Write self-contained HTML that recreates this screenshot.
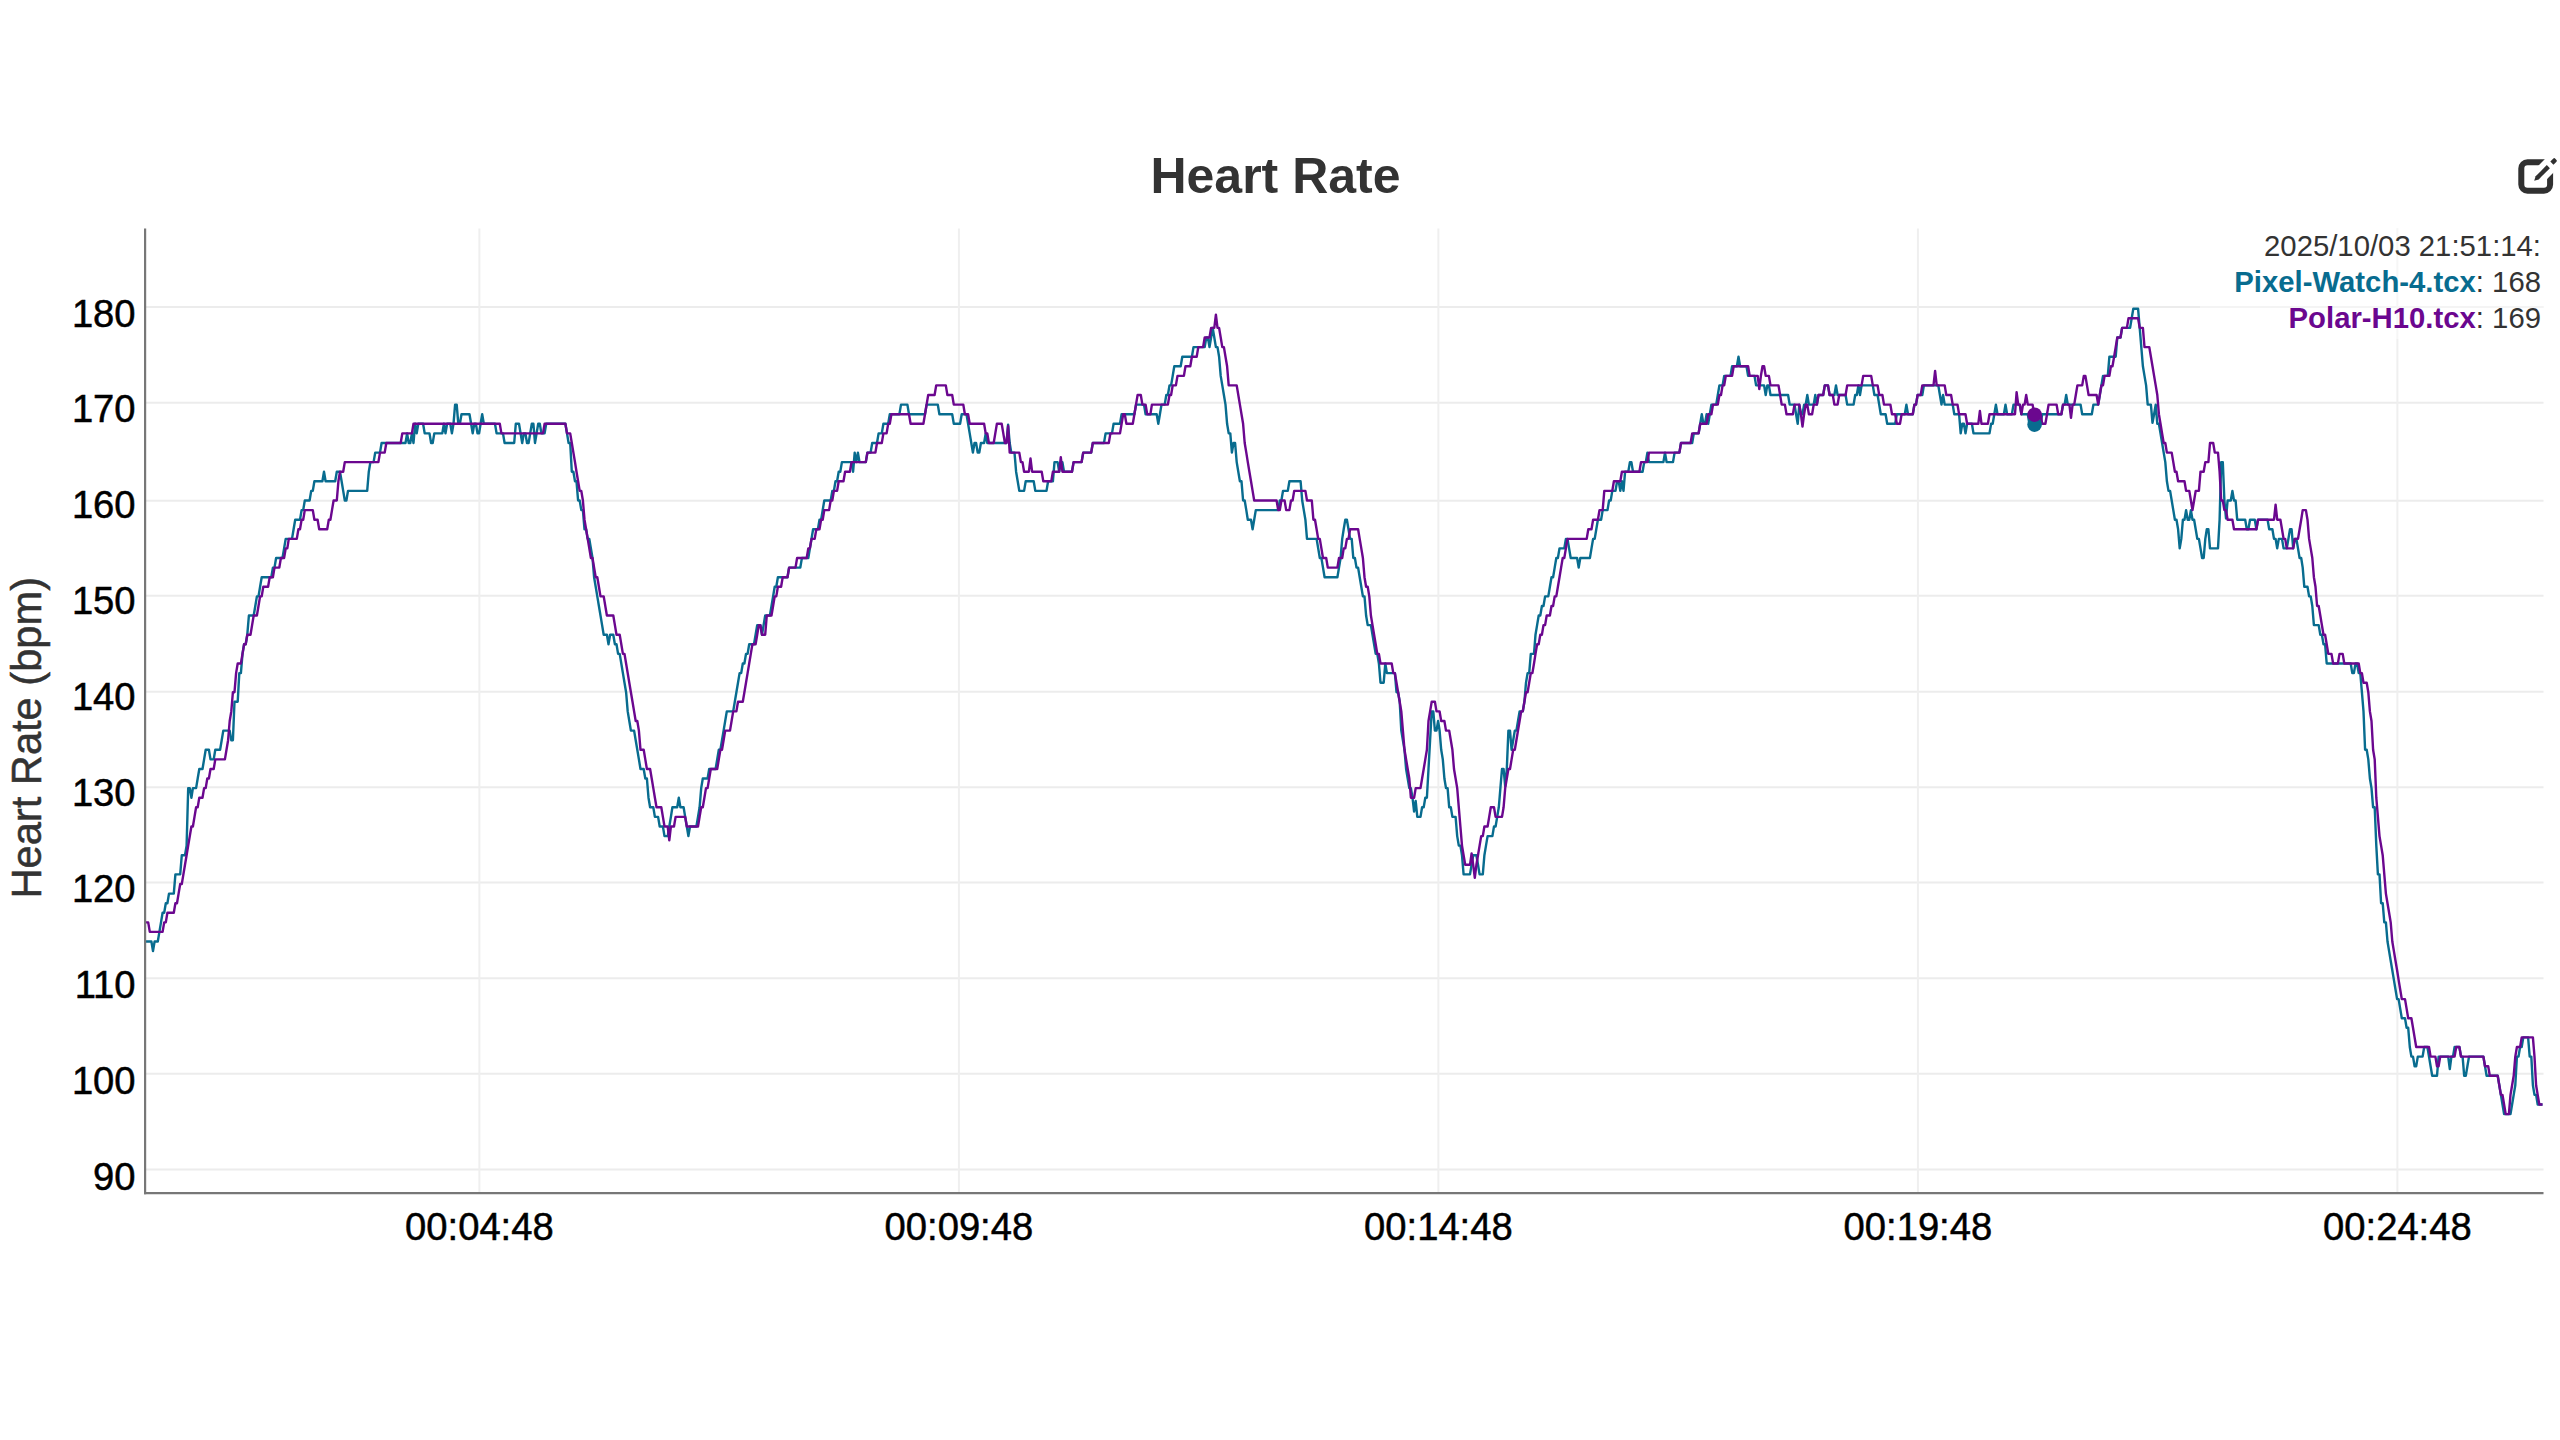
<!DOCTYPE html>
<html lang="en"><head><meta charset="utf-8"><title>Heart Rate</title>
<style>
html,body{margin:0;padding:0;background:#fff;}
body{width:2560px;height:1440px;overflow:hidden;font-family:"Liberation Sans",Arial,Helvetica,sans-serif;}
svg{display:block;}
text{font-family:"Liberation Sans",Arial,Helvetica,sans-serif;}
.tick{font-size:38.2px;fill:#000;stroke:#000;stroke-width:0.5px;}
.title{font-size:50px;font-weight:bold;fill:#333;}
.ylab{font-size:43.3px;fill:#333;stroke:#333;stroke-width:0.5px;}
.leg{font-size:29.3px;fill:#333;}
</style></head><body>
<svg width="2560" height="1440" viewBox="0 0 2560 1440">
<rect width="2560" height="1440" fill="#fff"/>

<g stroke="#ececec" stroke-width="2" fill="none">
<line x1="146" y1="1169.4" x2="2543.5" y2="1169.4"/>
<line x1="146" y1="1073.7" x2="2543.5" y2="1073.7"/>
<line x1="146" y1="978.3" x2="2543.5" y2="978.3"/>
<line x1="146" y1="882.5" x2="2543.5" y2="882.5"/>
<line x1="146" y1="787.2" x2="2543.5" y2="787.2"/>
<line x1="146" y1="691.7" x2="2543.5" y2="691.7"/>
<line x1="146" y1="595.8" x2="2543.5" y2="595.8"/>
<line x1="146" y1="500.7" x2="2543.5" y2="500.7"/>
<line x1="146" y1="402.7" x2="2543.5" y2="402.7"/>
<line x1="146" y1="306.9" x2="2543.5" y2="306.9"/>
<line stroke="#efefef" x1="479.4" y1="228.5" x2="479.4" y2="1192"/>
<line stroke="#efefef" x1="958.9" y1="228.5" x2="958.9" y2="1192"/>
<line stroke="#efefef" x1="1438.4" y1="228.5" x2="1438.4" y2="1192"/>
<line stroke="#efefef" x1="1917.9" y1="228.5" x2="1917.9" y2="1192"/>
<line stroke="#efefef" x1="2397.4" y1="228.5" x2="2397.4" y2="1192"/>
</g>
<g fill="none" stroke-width="2.4" stroke-linejoin="round" stroke-linecap="butt">
<path stroke="#086c8f" d="M145.0,941.5 L151.4,941.5 L153.0,951.1 L154.6,941.5 L157.8,941.5 L159.4,931.9 L161.0,922.4 L162.6,912.8 L164.2,912.8 L165.8,903.2 L167.4,903.2 L169.0,893.6 L173.8,893.6 L175.4,874.4 L180.2,874.4 L181.8,855.2 L185.0,855.2 L186.6,845.6 L188.2,788.1 L189.8,788.1 L191.4,797.7 L192.9,788.1 L196.1,788.1 L197.7,778.5 L199.3,769.0 L202.5,769.0 L204.1,759.4 L205.7,749.8 L208.9,749.8 L210.5,759.4 L213.7,759.4 L215.3,749.8 L220.1,749.8 L221.7,740.2 L223.3,730.6 L229.7,730.6 L231.3,740.2 L232.9,740.2 L234.5,701.8 L237.7,701.8 L239.3,673.1 L240.9,673.1 L242.5,653.9 L244.1,644.3 L245.7,644.3 L247.3,634.7 L248.9,615.5 L253.7,615.5 L255.3,606.0 L256.9,596.4 L258.5,596.4 L260.1,586.8 L261.7,577.2 L271.3,577.2 L272.9,567.6 L274.5,567.6 L276.1,558.0 L282.5,558.0 L284.1,548.4 L285.7,538.9 L292.0,538.9 L293.6,529.3 L295.2,519.7 L300.0,519.7 L301.6,510.1 L303.2,510.1 L304.8,500.5 L309.6,500.5 L311.2,490.9 L312.8,490.9 L314.4,481.3 L322.4,481.3 L324.0,471.7 L325.6,481.3 L335.2,481.3 L336.8,471.7 L340.0,471.7 L341.6,481.3 L343.2,490.9 L344.8,500.5 L346.4,500.5 L348.0,490.9 L367.2,490.9 L368.8,471.7 L370.4,462.1 L373.6,462.1 L375.2,452.6 L380.0,452.6 L381.6,443.0 L405.5,443.0 L407.1,433.4 L408.7,443.0 L410.3,443.0 L411.9,433.4 L413.5,443.0 L415.1,423.8 L416.7,433.4 L418.3,423.8 L423.1,423.8 L424.7,433.4 L429.5,433.4 L431.1,443.0 L432.7,443.0 L434.3,433.4 L442.3,433.4 L443.9,423.8 L445.5,433.4 L447.1,423.8 L450.3,423.8 L451.9,433.4 L453.5,423.8 L455.1,404.6 L456.7,404.6 L458.3,423.8 L459.9,423.8 L461.5,414.2 L469.5,414.2 L471.1,423.8 L472.7,433.4 L474.3,423.8 L475.9,423.8 L477.5,433.4 L479.1,433.4 L480.6,423.8 L482.2,414.2 L483.8,423.8 L495.0,423.8 L496.6,433.4 L503.0,433.4 L504.6,443.0 L514.2,443.0 L515.8,423.8 L519.0,423.8 L520.6,433.4 L522.2,443.0 L523.8,433.4 L525.4,433.4 L527.0,443.0 L528.6,443.0 L530.2,433.4 L531.8,423.8 L533.4,423.8 L535.0,443.0 L536.6,433.4 L538.2,423.8 L539.8,423.8 L541.4,433.4 L544.6,433.4 L546.2,423.8 L565.4,423.8 L567.0,433.4 L568.6,443.0 L570.2,443.0 L571.8,471.7 L573.4,471.7 L575.0,481.3 L576.5,481.3 L578.1,500.5 L579.7,500.5 L581.3,510.1 L582.9,510.1 L584.5,529.3 L586.1,529.3 L587.7,538.9 L589.3,538.9 L590.9,548.4 L592.5,558.0 L594.1,577.2 L595.7,586.8 L597.3,596.4 L598.9,606.0 L600.5,615.5 L602.1,625.1 L603.7,634.7 L606.9,634.7 L608.5,644.3 L610.1,634.7 L613.3,634.7 L614.9,644.3 L616.5,644.3 L618.1,653.9 L619.7,653.9 L621.3,663.5 L622.9,673.1 L624.5,682.7 L626.1,692.2 L627.7,711.4 L629.3,721.0 L630.9,730.6 L634.1,730.6 L635.7,740.2 L637.3,749.8 L638.9,759.4 L640.5,769.0 L643.7,769.0 L645.3,778.5 L646.9,778.5 L648.5,797.7 L650.1,807.3 L653.3,807.3 L654.9,816.9 L658.1,816.9 L659.7,826.5 L662.9,826.5 L664.5,836.1 L667.7,836.1 L669.3,826.5 L670.9,816.9 L672.4,807.3 L677.2,807.3 L678.8,797.7 L680.4,807.3 L683.6,807.3 L685.2,816.9 L686.8,826.5 L688.4,836.1 L690.0,826.5 L696.4,826.5 L698.0,816.9 L699.6,807.3 L701.2,788.1 L702.8,778.5 L707.6,778.5 L709.2,769.0 L715.6,769.0 L717.2,759.4 L718.8,749.8 L720.4,749.8 L722.0,740.2 L723.6,730.6 L725.2,721.0 L726.8,711.4 L733.2,711.4 L734.8,701.8 L736.4,692.2 L738.0,682.7 L739.6,673.1 L741.2,673.1 L742.8,663.5 L744.4,663.5 L746.0,653.9 L747.6,653.9 L749.2,644.3 L754.0,644.3 L755.6,634.7 L757.2,625.1 L760.4,625.1 L762.0,634.7 L763.6,625.1 L765.2,615.5 L769.9,615.5 L771.5,606.0 L773.1,596.4 L774.7,586.8 L776.3,586.8 L777.9,577.2 L787.5,577.2 L789.1,567.6 L800.3,567.6 L801.9,558.0 L808.3,558.0 L809.9,548.4 L811.5,538.9 L813.1,529.3 L817.9,529.3 L819.5,519.7 L821.1,519.7 L822.7,510.1 L824.3,500.5 L830.7,500.5 L832.3,490.9 L833.9,490.9 L835.5,481.3 L837.1,481.3 L838.7,471.7 L840.3,471.7 L841.9,462.1 L851.5,462.1 L853.1,471.7 L854.7,452.6 L856.3,462.1 L857.9,452.6 L859.5,462.1 L865.8,462.1 L867.4,452.6 L870.6,452.6 L872.2,443.0 L877.0,443.0 L878.6,433.4 L881.8,433.4 L883.4,423.8 L888.2,423.8 L889.8,414.2 L899.4,414.2 L901.0,404.6 L907.4,404.6 L909.0,414.2 L925.0,414.2 L926.6,404.6 L937.8,404.6 L939.4,414.2 L952.2,414.2 L953.8,423.8 L960.1,423.8 L961.7,414.2 L966.5,414.2 L968.1,423.8 L969.7,433.4 L971.3,443.0 L972.9,452.6 L974.5,443.0 L976.1,443.0 L977.7,452.6 L979.3,452.6 L980.9,443.0 L984.1,443.0 L985.7,433.4 L987.3,443.0 L1006.5,443.0 L1008.1,424.7 L1009.7,443.0 L1011.3,452.6 L1014.5,452.6 L1016.1,471.7 L1017.7,481.3 L1019.3,490.9 L1024.1,490.9 L1025.7,481.3 L1033.7,481.3 L1035.3,490.9 L1046.5,490.9 L1048.1,481.3 L1052.9,481.3 L1054.5,462.1 L1057.6,462.1 L1059.2,471.7 L1060.8,462.1 L1062.4,462.1 L1064.0,471.7 L1072.0,471.7 L1073.6,462.1 L1081.6,462.1 L1083.2,452.6 L1091.2,452.6 L1092.8,443.0 L1104.0,443.0 L1105.6,433.4 L1112.0,433.4 L1113.6,423.8 L1120.0,423.8 L1121.6,414.2 L1134.4,414.2 L1136.0,404.6 L1144.0,404.6 L1145.6,414.2 L1156.7,414.2 L1158.3,423.8 L1159.9,414.2 L1161.5,404.6 L1164.7,404.6 L1166.3,395.0 L1167.9,395.0 L1169.5,385.4 L1171.1,385.4 L1172.7,375.9 L1174.3,366.3 L1180.7,366.3 L1182.3,356.7 L1191.9,356.7 L1193.5,347.1 L1204.7,347.1 L1206.3,337.5 L1207.9,337.5 L1209.5,347.1 L1211.1,337.5 L1212.7,327.9 L1214.3,337.5 L1215.9,347.1 L1217.5,347.1 L1219.1,356.7 L1220.7,375.9 L1222.3,385.4 L1223.9,395.0 L1225.5,404.6 L1227.1,423.8 L1228.7,433.4 L1230.3,433.4 L1231.9,452.6 L1233.5,443.0 L1235.1,443.0 L1236.7,462.1 L1238.3,471.7 L1239.9,481.3 L1241.5,481.3 L1243.1,500.5 L1244.7,500.5 L1246.3,510.1 L1247.8,519.7 L1251.0,519.7 L1252.6,529.3 L1254.2,519.7 L1255.8,510.1 L1278.2,510.1 L1279.8,500.5 L1281.4,500.5 L1283.0,490.9 L1287.8,490.9 L1289.4,481.3 L1300.6,481.3 L1302.2,500.5 L1303.8,510.1 L1305.4,519.7 L1307.0,538.9 L1316.6,538.9 L1318.2,548.4 L1319.8,558.0 L1321.4,558.0 L1323.0,567.6 L1324.6,577.2 L1337.4,577.2 L1339.0,567.6 L1340.6,558.0 L1342.2,538.9 L1343.7,529.3 L1345.3,519.7 L1346.9,519.7 L1348.5,529.3 L1350.1,538.9 L1351.7,538.9 L1353.3,558.0 L1354.9,558.0 L1356.5,567.6 L1358.1,567.6 L1359.7,577.2 L1361.3,586.8 L1362.9,596.4 L1364.5,596.4 L1366.1,615.5 L1367.7,625.1 L1370.9,625.1 L1372.5,634.7 L1374.1,644.3 L1375.7,653.9 L1377.3,653.9 L1378.9,663.5 L1380.5,682.7 L1383.7,682.7 L1385.3,663.5 L1386.9,673.1 L1394.9,673.1 L1396.5,692.2 L1398.1,692.2 L1399.7,701.8 L1401.3,730.6 L1402.9,740.2 L1404.5,749.8 L1406.1,769.0 L1407.7,778.5 L1409.3,788.1 L1410.9,788.1 L1412.5,797.7 L1414.1,811.5 L1415.7,801.0 L1417.3,816.9 L1420.5,816.9 L1422.1,807.3 L1423.7,807.3 L1425.3,797.7 L1426.9,797.7 L1428.5,769.0 L1430.1,740.2 L1431.7,711.4 L1433.3,711.4 L1434.9,730.6 L1436.5,730.6 L1438.1,721.0 L1439.6,730.6 L1441.2,749.8 L1442.8,759.4 L1444.4,778.5 L1446.0,788.1 L1447.6,788.1 L1449.2,807.3 L1450.8,807.3 L1452.4,816.9 L1455.6,816.9 L1457.2,836.1 L1458.8,845.6 L1460.4,845.6 L1462.0,855.2 L1463.6,874.4 L1470.0,874.4 L1471.6,864.8 L1473.2,855.2 L1476.4,855.2 L1478.0,864.8 L1479.6,874.4 L1482.8,874.4 L1484.4,855.2 L1486.0,845.6 L1487.6,836.1 L1492.4,836.1 L1494.0,826.5 L1495.6,826.5 L1497.2,816.9 L1498.8,807.3 L1500.4,788.1 L1502.0,769.0 L1503.6,769.0 L1505.2,786.5 L1506.8,769.0 L1508.4,730.6 L1510.0,730.6 L1511.6,749.8 L1513.2,740.2 L1514.8,730.6 L1516.4,730.6 L1518.0,721.0 L1519.6,711.4 L1522.8,711.4 L1524.4,701.8 L1526.0,682.7 L1527.6,673.1 L1529.2,673.1 L1530.8,653.9 L1534.0,653.9 L1535.5,634.7 L1537.1,625.1 L1538.7,615.5 L1540.3,615.5 L1541.9,606.0 L1543.5,606.0 L1545.1,596.4 L1548.3,596.4 L1549.9,586.8 L1551.5,577.2 L1553.1,577.2 L1554.7,567.6 L1556.3,558.0 L1557.9,558.0 L1559.5,548.4 L1564.3,548.4 L1565.9,538.9 L1567.5,538.9 L1569.1,548.4 L1570.7,558.0 L1577.1,558.0 L1578.7,567.6 L1580.3,558.0 L1589.9,558.0 L1591.5,548.4 L1593.1,538.9 L1594.7,538.9 L1596.3,529.3 L1597.9,519.7 L1601.1,519.7 L1602.7,510.1 L1607.5,510.1 L1609.1,500.5 L1610.7,500.5 L1612.3,490.9 L1615.5,490.9 L1617.1,481.3 L1618.7,481.3 L1620.3,490.9 L1621.9,481.3 L1623.5,490.9 L1625.1,471.7 L1628.3,471.7 L1629.9,462.1 L1631.4,462.1 L1633.0,471.7 L1642.6,471.7 L1644.2,462.1 L1645.8,462.1 L1647.4,452.6 L1649.0,462.1 L1663.4,462.1 L1665.0,452.6 L1666.6,462.1 L1673.0,462.1 L1674.6,452.6 L1679.4,452.6 L1681.0,443.0 L1692.2,443.0 L1693.8,433.4 L1698.6,433.4 L1700.2,423.8 L1701.8,414.2 L1703.4,423.8 L1705.0,423.8 L1706.6,414.2 L1708.2,423.8 L1709.8,414.2 L1711.4,404.6 L1716.2,404.6 L1717.8,395.0 L1719.4,385.4 L1722.6,385.4 L1724.2,375.9 L1730.5,375.9 L1732.1,366.3 L1736.9,366.3 L1738.5,356.7 L1740.1,366.3 L1746.5,366.3 L1748.1,375.9 L1754.5,375.9 L1756.1,385.4 L1764.1,385.4 L1765.7,395.0 L1767.3,385.4 L1768.9,385.4 L1770.5,395.0 L1788.1,395.0 L1789.7,404.6 L1794.5,404.6 L1796.1,414.2 L1797.7,423.8 L1799.3,404.6 L1800.9,414.2 L1802.5,414.2 L1804.1,404.6 L1805.7,404.6 L1807.3,395.0 L1808.9,404.6 L1813.7,404.6 L1815.3,395.0 L1816.9,404.6 L1818.5,395.0 L1823.2,395.0 L1824.8,385.4 L1828.0,385.4 L1829.6,395.0 L1834.4,395.0 L1836.0,385.4 L1837.6,395.0 L1845.6,395.0 L1847.2,404.6 L1853.6,404.6 L1855.2,395.0 L1856.8,395.0 L1858.4,385.4 L1860.0,395.0 L1861.6,385.4 L1872.8,385.4 L1874.4,395.0 L1877.6,395.0 L1879.2,404.6 L1880.8,414.2 L1885.6,414.2 L1887.2,423.8 L1895.2,423.8 L1896.8,414.2 L1904.8,414.2 L1906.4,404.6 L1908.0,414.2 L1912.8,414.2 L1914.4,404.6 L1916.0,404.6 L1917.6,395.0 L1922.3,395.0 L1923.9,385.4 L1938.3,385.4 L1939.9,395.0 L1941.5,404.6 L1943.1,395.0 L1944.7,404.6 L1952.7,404.6 L1954.3,414.2 L1959.1,414.2 L1960.7,433.4 L1962.3,423.8 L1963.9,423.8 L1965.5,433.4 L1967.1,423.8 L1971.9,423.8 L1973.5,433.4 L1989.5,433.4 L1991.1,423.8 L1992.7,423.8 L1994.3,414.2 L1995.9,404.6 L1997.5,414.2 L2003.9,414.2 L2005.5,404.6 L2007.1,414.2 L2011.9,414.2 L2013.5,404.6 L2019.8,404.6 L2021.4,414.2 L2027.8,414.2 L2029.4,423.8 L2040.6,423.8 L2042.2,414.2 L2061.4,414.2 L2063.0,404.6 L2064.6,404.6 L2066.2,395.0 L2067.8,404.6 L2080.6,404.6 L2082.2,414.2 L2091.8,414.2 L2093.4,404.6 L2098.2,404.6 L2099.8,395.0 L2101.4,385.4 L2103.0,375.9 L2107.8,375.9 L2109.4,356.7 L2115.7,356.7 L2117.3,337.5 L2120.5,337.5 L2122.1,327.9 L2130.1,327.9 L2131.7,318.3 L2133.3,308.8 L2138.1,308.8 L2139.7,327.9 L2141.3,347.1 L2142.9,366.3 L2144.5,375.9 L2146.1,385.4 L2147.7,404.6 L2150.9,404.6 L2152.5,422.8 L2154.1,414.2 L2155.7,404.6 L2157.3,423.8 L2158.9,423.8 L2160.5,433.4 L2162.1,443.0 L2163.7,452.6 L2165.3,462.1 L2166.9,481.3 L2168.5,490.9 L2170.1,490.9 L2171.7,500.5 L2173.3,510.1 L2174.9,519.7 L2176.5,519.7 L2178.1,529.3 L2179.7,548.4 L2181.3,538.9 L2182.9,519.7 L2184.5,519.7 L2186.1,510.1 L2187.7,519.7 L2189.3,519.7 L2190.9,510.1 L2192.5,519.7 L2194.1,519.7 L2195.7,529.3 L2197.3,538.9 L2198.9,538.9 L2200.5,548.4 L2202.1,558.0 L2203.7,558.0 L2205.3,538.9 L2206.8,529.3 L2208.4,529.3 L2210.0,548.4 L2218.0,548.4 L2219.6,519.7 L2221.2,462.1 L2222.8,462.1 L2224.4,500.5 L2226.0,518.5 L2227.6,500.5 L2230.8,500.5 L2232.4,490.9 L2234.0,500.5 L2235.6,500.5 L2237.2,519.7 L2245.2,519.7 L2246.8,529.3 L2248.4,529.3 L2250.0,519.7 L2254.8,519.7 L2256.4,529.3 L2258.0,519.7 L2267.6,519.7 L2269.2,529.3 L2272.4,529.3 L2274.0,538.9 L2275.6,538.9 L2277.2,548.4 L2278.8,538.9 L2282.0,538.9 L2283.6,548.4 L2286.8,548.4 L2288.4,538.9 L2290.0,529.3 L2291.6,529.3 L2293.2,548.4 L2294.8,538.9 L2296.4,538.9 L2298.0,548.4 L2299.6,558.0 L2301.2,558.0 L2302.7,567.6 L2304.3,586.8 L2307.5,586.8 L2309.1,596.4 L2310.7,596.4 L2312.3,606.0 L2313.9,625.1 L2318.7,625.1 L2320.3,634.7 L2321.9,634.7 L2323.5,644.3 L2325.1,644.3 L2326.7,663.5 L2350.7,663.5 L2352.3,673.1 L2353.9,673.1 L2355.5,663.5 L2357.1,663.5 L2358.7,673.1 L2360.3,673.1 L2361.9,692.2 L2363.5,711.4 L2365.1,749.8 L2366.7,749.8 L2368.3,759.4 L2369.9,778.5 L2371.5,788.1 L2373.1,807.3 L2374.7,807.3 L2376.3,845.6 L2377.9,874.4 L2379.5,874.4 L2381.1,903.2 L2382.7,903.2 L2384.3,922.4 L2385.9,922.4 L2387.5,941.5 L2389.1,951.1 L2390.7,960.7 L2392.3,970.3 L2393.9,979.9 L2395.5,989.5 L2397.1,999.1 L2398.6,999.1 L2400.2,1008.6 L2401.8,1018.2 L2405.0,1018.2 L2406.6,1027.8 L2408.2,1027.8 L2409.8,1047.0 L2411.4,1056.6 L2413.0,1056.6 L2414.6,1066.2 L2416.2,1066.2 L2417.8,1056.6 L2422.6,1056.6 L2424.2,1047.0 L2427.4,1047.0 L2429.0,1056.6 L2430.6,1066.2 L2432.2,1075.8 L2437.0,1075.8 L2438.6,1056.6 L2448.2,1056.6 L2449.8,1069.0 L2451.4,1056.6 L2453.0,1056.6 L2454.6,1047.0 L2459.4,1047.0 L2461.0,1056.6 L2462.6,1056.6 L2464.2,1075.8 L2465.8,1075.8 L2467.4,1066.2 L2469.0,1056.6 L2483.4,1056.6 L2485.0,1066.2 L2486.6,1075.8 L2497.7,1075.8 L2499.3,1085.3 L2500.9,1094.9 L2502.5,1104.5 L2504.1,1114.1 L2510.5,1114.1 L2512.1,1104.5 L2513.7,1094.9 L2515.3,1085.3 L2516.9,1056.6 L2518.5,1056.6 L2520.1,1047.0 L2521.7,1047.0 L2523.3,1037.4 L2528.1,1037.4 L2529.7,1056.6 L2531.3,1056.6 L2532.9,1085.3 L2534.5,1094.9 L2536.1,1094.9 L2537.7,1104.5 L2542.5,1104.5"/>
<path stroke="#6b078f" d="M145.0,922.4 L148.2,922.4 L149.8,931.9 L162.6,931.9 L164.2,922.4 L165.8,922.4 L167.4,912.8 L173.8,912.8 L175.4,903.2 L177.0,903.2 L178.6,893.6 L180.2,884.0 L181.8,884.0 L183.4,874.4 L185.0,864.8 L186.6,855.2 L188.2,845.6 L189.8,836.1 L191.4,826.5 L192.9,826.5 L194.5,816.9 L196.1,807.3 L197.7,807.3 L199.3,797.7 L202.5,797.7 L204.1,788.1 L205.7,788.1 L207.3,778.5 L208.9,778.5 L210.5,769.0 L213.7,769.0 L215.3,759.4 L224.9,759.4 L226.5,749.8 L228.1,740.2 L229.7,721.0 L231.3,711.4 L232.9,692.2 L234.5,692.2 L236.1,673.1 L237.7,663.5 L240.9,663.5 L242.5,653.9 L244.1,644.3 L245.7,644.3 L247.3,634.7 L250.5,634.7 L252.1,625.1 L253.7,615.5 L256.9,615.5 L258.5,606.0 L260.1,596.4 L261.7,596.4 L263.3,586.8 L268.1,586.8 L269.7,577.2 L272.9,577.2 L274.5,567.6 L279.3,567.6 L280.9,558.0 L284.1,558.0 L285.7,548.4 L287.3,548.4 L288.8,538.9 L296.8,538.9 L298.4,529.3 L300.0,529.3 L301.6,519.7 L303.2,519.7 L304.8,510.1 L312.8,510.1 L314.4,519.7 L317.6,519.7 L319.2,529.3 L327.2,529.3 L328.8,519.7 L330.4,519.7 L332.0,510.1 L333.6,500.5 L336.8,500.5 L338.4,481.3 L340.0,471.7 L343.2,471.7 L344.8,462.1 L378.4,462.1 L380.0,452.6 L384.7,452.6 L386.3,443.0 L400.7,443.0 L402.3,433.4 L411.9,433.4 L413.5,423.8 L499.8,423.8 L501.4,433.4 L543.0,433.4 L544.6,423.8 L565.4,423.8 L567.0,433.4 L570.2,433.4 L571.8,443.0 L573.4,452.6 L575.0,462.1 L576.5,471.7 L578.1,481.3 L579.7,490.9 L581.3,490.9 L582.9,500.5 L584.5,519.7 L586.1,529.3 L587.7,538.9 L589.3,548.4 L590.9,558.0 L592.5,558.0 L594.1,567.6 L595.7,577.2 L597.3,577.2 L598.9,586.8 L600.5,596.4 L603.7,596.4 L605.3,606.0 L606.9,615.5 L613.3,615.5 L614.9,625.1 L616.5,634.7 L619.7,634.7 L621.3,644.3 L622.9,653.9 L624.5,653.9 L626.1,663.5 L627.7,673.1 L629.3,682.7 L630.9,692.2 L632.5,701.8 L634.1,711.4 L635.7,721.0 L637.3,721.0 L638.9,730.6 L640.5,749.8 L643.7,749.8 L645.3,759.4 L646.9,769.0 L650.1,769.0 L651.7,778.5 L653.3,788.1 L654.9,797.7 L656.5,807.3 L661.3,807.3 L662.9,816.9 L664.5,826.5 L667.7,826.5 L669.3,840.3 L670.9,826.5 L674.0,826.5 L675.6,816.9 L685.2,816.9 L686.8,826.5 L698.0,826.5 L699.6,816.9 L701.2,807.3 L702.8,807.3 L704.4,797.7 L706.0,788.1 L707.6,788.1 L709.2,778.5 L710.8,769.0 L717.2,769.0 L718.8,759.4 L720.4,749.8 L722.0,749.8 L723.6,740.2 L725.2,730.6 L730.0,730.6 L731.6,721.0 L733.2,711.4 L736.4,711.4 L738.0,701.8 L742.8,701.8 L744.4,692.2 L746.0,682.7 L747.6,673.1 L749.2,663.5 L750.8,653.9 L752.4,644.3 L755.6,644.3 L757.2,634.7 L758.8,625.1 L760.4,625.1 L762.0,634.7 L765.2,634.7 L766.8,615.5 L771.5,615.5 L773.1,606.0 L774.7,596.4 L776.3,596.4 L777.9,586.8 L781.1,586.8 L782.7,577.2 L787.5,577.2 L789.1,567.6 L795.5,567.6 L797.1,558.0 L806.7,558.0 L808.3,548.4 L809.9,548.4 L811.5,538.9 L814.7,538.9 L816.3,529.3 L819.5,529.3 L821.1,519.7 L822.7,519.7 L824.3,510.1 L829.1,510.1 L830.7,500.5 L832.3,500.5 L833.9,490.9 L837.1,490.9 L838.7,481.3 L843.5,481.3 L845.1,471.7 L849.9,471.7 L851.5,462.1 L865.8,462.1 L867.4,452.6 L875.4,452.6 L877.0,443.0 L881.8,443.0 L883.4,433.4 L886.6,433.4 L888.2,423.8 L889.8,423.8 L891.4,414.2 L909.0,414.2 L910.6,423.8 L923.4,423.8 L925.0,414.2 L926.6,404.6 L928.2,395.0 L934.6,395.0 L936.2,385.4 L945.8,385.4 L947.4,395.0 L952.2,395.0 L953.8,404.6 L963.3,404.6 L964.9,414.2 L968.1,414.2 L969.7,423.8 L984.1,423.8 L985.7,433.4 L987.3,433.4 L988.9,443.0 L993.7,443.0 L995.3,433.4 L996.9,423.8 L1001.7,423.8 L1003.3,433.4 L1004.9,443.0 L1006.5,443.0 L1008.1,426.0 L1009.7,452.6 L1019.3,452.6 L1020.9,462.1 L1022.5,462.1 L1024.1,471.7 L1028.9,471.7 L1030.5,458.5 L1032.1,471.7 L1041.7,471.7 L1043.3,481.3 L1051.3,481.3 L1052.9,471.7 L1059.2,471.7 L1060.8,457.2 L1062.4,471.7 L1072.0,471.7 L1073.6,462.1 L1081.6,462.1 L1083.2,452.6 L1091.2,452.6 L1092.8,443.0 L1108.8,443.0 L1110.4,433.4 L1120.0,433.4 L1121.6,423.8 L1123.2,414.2 L1124.8,414.2 L1126.4,423.8 L1132.8,423.8 L1134.4,414.2 L1136.0,404.6 L1137.6,395.0 L1140.8,395.0 L1142.4,404.6 L1145.6,404.6 L1147.2,414.2 L1150.4,414.2 L1151.9,404.6 L1167.9,404.6 L1169.5,395.0 L1171.1,395.0 L1172.7,385.4 L1175.9,385.4 L1177.5,375.9 L1183.9,375.9 L1185.5,366.3 L1190.3,366.3 L1191.9,356.7 L1196.7,356.7 L1198.3,347.1 L1203.1,347.1 L1204.7,337.5 L1209.5,337.5 L1211.1,327.9 L1214.3,327.9 L1215.9,314.7 L1217.5,327.9 L1219.1,327.9 L1220.7,337.5 L1222.3,347.1 L1223.9,347.1 L1225.5,356.7 L1227.1,366.3 L1228.7,385.4 L1236.7,385.4 L1238.3,395.0 L1239.9,404.6 L1241.5,414.2 L1243.1,423.8 L1244.7,443.0 L1246.3,452.6 L1247.8,462.1 L1249.4,471.7 L1251.0,481.3 L1252.6,490.9 L1254.2,500.5 L1276.6,500.5 L1278.2,510.1 L1279.8,510.1 L1281.4,500.5 L1284.6,500.5 L1286.2,510.1 L1289.4,510.1 L1291.0,500.5 L1292.6,500.5 L1294.2,490.9 L1305.4,490.9 L1307.0,500.5 L1311.8,500.5 L1313.4,519.7 L1315.0,519.7 L1316.6,529.3 L1318.2,538.9 L1319.8,538.9 L1321.4,548.4 L1323.0,558.0 L1326.2,558.0 L1327.8,567.6 L1337.4,567.6 L1339.0,558.0 L1342.2,558.0 L1343.7,548.4 L1345.3,548.4 L1346.9,538.9 L1348.5,538.9 L1350.1,529.3 L1358.1,529.3 L1359.7,538.9 L1361.3,548.4 L1362.9,558.0 L1364.5,577.2 L1366.1,586.8 L1367.7,586.8 L1369.3,596.4 L1370.9,615.5 L1372.5,625.1 L1374.1,634.7 L1375.7,644.3 L1377.3,653.9 L1378.9,653.9 L1380.5,663.5 L1391.7,663.5 L1393.3,673.1 L1394.9,673.1 L1396.5,682.7 L1398.1,692.2 L1399.7,701.8 L1401.3,711.4 L1402.9,730.6 L1404.5,749.8 L1406.1,759.4 L1407.7,769.0 L1409.3,778.5 L1410.9,797.7 L1414.1,797.7 L1415.7,788.1 L1420.5,788.1 L1422.1,778.5 L1423.7,769.0 L1425.3,759.4 L1426.9,749.8 L1428.5,721.0 L1430.1,711.4 L1431.7,701.8 L1434.9,701.8 L1436.5,711.4 L1439.6,711.4 L1441.2,721.0 L1444.4,721.0 L1446.0,730.6 L1449.2,730.6 L1450.8,740.2 L1452.4,749.8 L1454.0,769.0 L1455.6,778.5 L1457.2,788.1 L1458.8,807.3 L1460.4,826.5 L1462.0,845.6 L1463.6,855.2 L1465.2,864.8 L1470.0,864.8 L1471.6,853.5 L1473.2,864.8 L1474.8,877.8 L1476.4,864.8 L1478.0,855.2 L1479.6,845.6 L1481.2,836.1 L1482.8,836.1 L1484.4,826.5 L1487.6,826.5 L1489.2,816.9 L1490.8,807.3 L1494.0,807.3 L1495.6,816.9 L1502.0,816.9 L1503.6,807.3 L1505.2,788.1 L1506.8,778.5 L1508.4,769.0 L1510.0,769.0 L1511.6,759.4 L1513.2,749.8 L1514.8,749.8 L1516.4,740.2 L1518.0,730.6 L1519.6,721.0 L1521.2,711.4 L1522.8,711.4 L1524.4,701.8 L1526.0,692.2 L1527.6,692.2 L1529.2,682.7 L1530.8,673.1 L1532.4,673.1 L1534.0,663.5 L1535.5,653.9 L1537.1,644.3 L1538.7,644.3 L1540.3,634.7 L1541.9,634.7 L1543.5,625.1 L1545.1,625.1 L1546.7,615.5 L1549.9,615.5 L1551.5,606.0 L1553.1,606.0 L1554.7,596.4 L1556.3,596.4 L1557.9,586.8 L1559.5,577.2 L1561.1,567.6 L1562.7,558.0 L1564.3,558.0 L1565.9,548.4 L1567.5,538.9 L1586.7,538.9 L1588.3,529.3 L1591.5,529.3 L1593.1,519.7 L1597.9,519.7 L1599.5,510.1 L1602.7,510.1 L1604.3,490.9 L1612.3,490.9 L1613.9,481.3 L1620.3,481.3 L1621.9,471.7 L1639.4,471.7 L1641.0,462.1 L1647.4,462.1 L1649.0,452.6 L1679.4,452.6 L1681.0,443.0 L1690.6,443.0 L1692.2,433.4 L1698.6,433.4 L1700.2,423.8 L1706.6,423.8 L1708.2,414.2 L1711.4,414.2 L1713.0,404.6 L1717.8,404.6 L1719.4,395.0 L1721.0,395.0 L1722.6,385.4 L1724.2,385.4 L1725.8,375.9 L1732.1,375.9 L1733.7,366.3 L1748.1,366.3 L1749.7,375.9 L1757.7,375.9 L1759.3,389.0 L1760.9,375.9 L1762.5,366.3 L1764.1,366.3 L1765.7,375.9 L1768.9,375.9 L1770.5,385.4 L1778.5,385.4 L1780.1,395.0 L1781.7,404.6 L1784.9,404.6 L1786.5,414.2 L1792.9,414.2 L1794.5,404.6 L1799.3,404.6 L1800.9,414.2 L1802.5,426.5 L1804.1,414.2 L1805.7,404.6 L1807.3,404.6 L1808.9,414.2 L1812.1,414.2 L1813.7,404.6 L1816.9,404.6 L1818.5,395.0 L1823.2,395.0 L1824.8,385.4 L1828.0,385.4 L1829.6,395.0 L1832.8,395.0 L1834.4,404.6 L1837.6,404.6 L1839.2,395.0 L1845.6,395.0 L1847.2,385.4 L1861.6,385.4 L1863.2,375.9 L1871.2,375.9 L1872.8,385.4 L1877.6,385.4 L1879.2,395.0 L1882.4,395.0 L1884.0,404.6 L1890.4,404.6 L1892.0,414.2 L1895.2,414.2 L1896.8,423.8 L1900.0,423.8 L1901.6,414.2 L1912.8,414.2 L1914.4,404.6 L1916.0,404.6 L1917.6,395.0 L1920.7,395.0 L1922.3,385.4 L1933.5,385.4 L1935.1,371.0 L1936.7,385.4 L1944.7,385.4 L1946.3,395.0 L1951.1,395.0 L1952.7,404.6 L1957.5,404.6 L1959.1,414.2 L1965.5,414.2 L1967.1,423.8 L1978.3,423.8 L1979.9,411.0 L1981.5,423.8 L1987.9,423.8 L1989.5,414.2 L2015.0,414.2 L2016.6,392.2 L2018.2,404.6 L2019.8,404.6 L2021.4,414.2 L2023.0,404.6 L2024.6,404.6 L2026.2,395.0 L2027.8,404.6 L2032.6,404.6 L2034.2,414.2 L2040.6,414.2 L2042.2,423.8 L2045.4,423.8 L2047.0,414.2 L2048.6,404.6 L2056.6,404.6 L2058.2,414.2 L2061.4,414.2 L2063.0,404.6 L2069.4,404.6 L2071.0,417.8 L2072.6,404.6 L2074.2,404.6 L2075.8,395.0 L2077.4,385.4 L2082.2,385.4 L2083.8,375.9 L2085.4,375.9 L2087.0,385.4 L2088.6,395.0 L2096.6,395.0 L2098.2,404.6 L2099.8,395.0 L2101.4,385.4 L2103.0,385.4 L2104.6,375.9 L2109.4,375.9 L2110.9,366.3 L2112.5,366.3 L2114.1,356.7 L2115.7,347.1 L2117.3,337.5 L2120.5,337.5 L2122.1,327.9 L2126.9,327.9 L2128.5,318.3 L2138.1,318.3 L2139.7,327.9 L2142.9,327.9 L2144.5,347.1 L2149.3,347.1 L2150.9,356.7 L2152.5,366.3 L2154.1,375.9 L2155.7,385.4 L2157.3,395.0 L2158.9,414.2 L2160.5,423.8 L2162.1,433.4 L2163.7,443.0 L2165.3,443.0 L2166.9,452.6 L2171.7,452.6 L2173.3,462.1 L2174.9,471.7 L2176.5,471.7 L2178.1,481.3 L2184.5,481.3 L2186.1,490.9 L2189.3,490.9 L2190.9,500.5 L2192.5,510.1 L2194.1,500.5 L2195.7,490.9 L2198.9,490.9 L2200.5,471.7 L2203.7,471.7 L2205.3,462.1 L2208.4,462.1 L2210.0,443.0 L2213.2,443.0 L2214.8,452.6 L2218.0,452.6 L2219.6,471.7 L2221.2,500.5 L2222.8,500.5 L2224.4,510.1 L2226.0,510.1 L2227.6,519.7 L2232.4,519.7 L2234.0,529.3 L2256.4,529.3 L2258.0,519.7 L2274.0,519.7 L2275.6,504.7 L2277.2,519.7 L2280.4,519.7 L2282.0,529.3 L2283.6,538.9 L2285.2,538.9 L2286.8,548.4 L2293.2,548.4 L2294.8,538.9 L2298.0,538.9 L2299.6,529.3 L2301.2,519.7 L2302.7,510.1 L2305.9,510.1 L2307.5,519.7 L2309.1,538.9 L2310.7,548.4 L2312.3,558.0 L2313.9,577.2 L2315.5,586.8 L2317.1,606.0 L2318.7,606.0 L2320.3,615.5 L2321.9,625.1 L2323.5,634.7 L2325.1,634.7 L2326.7,644.3 L2328.3,653.9 L2331.5,653.9 L2333.1,663.5 L2337.9,663.5 L2339.5,653.9 L2342.7,653.9 L2344.3,663.5 L2358.7,663.5 L2360.3,673.1 L2361.9,673.1 L2363.5,682.7 L2366.7,682.7 L2368.3,692.2 L2369.9,711.4 L2371.5,721.0 L2373.1,749.8 L2374.7,759.4 L2376.3,797.7 L2377.9,816.9 L2379.5,836.1 L2381.1,845.6 L2382.7,855.2 L2384.3,874.4 L2385.9,893.6 L2387.5,903.2 L2389.1,912.8 L2390.7,922.4 L2392.3,941.5 L2393.9,951.1 L2395.5,960.7 L2397.1,970.3 L2398.6,979.9 L2400.2,989.5 L2401.8,999.1 L2405.0,999.1 L2406.6,1008.6 L2408.2,1018.2 L2411.4,1018.2 L2413.0,1027.8 L2414.6,1037.4 L2416.2,1047.0 L2429.0,1047.0 L2430.6,1056.6 L2435.4,1056.6 L2437.0,1066.2 L2438.6,1066.2 L2440.2,1056.6 L2454.6,1056.6 L2456.2,1047.0 L2459.4,1047.0 L2461.0,1056.6 L2483.4,1056.6 L2485.0,1066.2 L2488.2,1066.2 L2489.8,1075.8 L2497.7,1075.8 L2499.3,1085.3 L2500.9,1094.9 L2502.5,1094.9 L2504.1,1104.5 L2505.7,1114.1 L2508.9,1114.1 L2510.5,1094.9 L2512.1,1085.3 L2513.7,1075.8 L2515.3,1056.6 L2516.9,1047.0 L2520.1,1047.0 L2521.7,1037.4 L2532.9,1037.4 L2534.5,1056.6 L2536.1,1085.3 L2537.7,1094.9 L2539.3,1104.5 L2542.5,1104.5"/>
</g>
<circle cx="2034.6" cy="424.6" r="7.3" fill="#086c8f"/>
<circle cx="2034.6" cy="414.7" r="7.3" fill="#6b078f"/>
<g stroke="#777" stroke-width="2.2" fill="none"><line x1="145.1" y1="228.5" x2="145.1" y2="1194.2"/><line x1="144" y1="1193.2" x2="2543.5" y2="1193.2"/></g>
<text class="tick" x="135.6" y="1190.0" text-anchor="end">90</text>
<text class="tick" x="135.6" y="1093.5" text-anchor="end">100</text>
<text class="tick" x="135.6" y="997.7" text-anchor="end">110</text>
<text class="tick" x="135.6" y="901.8" text-anchor="end">120</text>
<text class="tick" x="135.6" y="805.9" text-anchor="end">130</text>
<text class="tick" x="135.6" y="710.0" text-anchor="end">140</text>
<text class="tick" x="135.6" y="614.2" text-anchor="end">150</text>
<text class="tick" x="135.6" y="518.3" text-anchor="end">160</text>
<text class="tick" x="135.6" y="422.4" text-anchor="end">170</text>
<text class="tick" x="135.6" y="326.6" text-anchor="end">180</text>
<text class="tick" x="479.4" y="1240" text-anchor="middle">00:04:48</text>
<text class="tick" x="958.9" y="1240" text-anchor="middle">00:09:48</text>
<text class="tick" x="1438.4" y="1240" text-anchor="middle">00:14:48</text>
<text class="tick" x="1917.9" y="1240" text-anchor="middle">00:19:48</text>
<text class="tick" x="2397.4" y="1240" text-anchor="middle">00:24:48</text>
<text class="title" x="1275.5" y="193" text-anchor="middle">Heart Rate</text>
<text class="ylab" transform="translate(40.8,737.75) rotate(-90) scale(0.962,1)" text-anchor="middle">Heart Rate (bpm)</text>
<rect x="2200" y="229" width="343.5" height="110" fill="#fff" fill-opacity="0.45"/>
<text class="leg" x="2541" y="256" text-anchor="end">2025/10/03 21:51:14:</text>
<text class="leg" x="2541" y="292" text-anchor="end"><tspan font-weight="bold" fill="#086c8f">Pixel-Watch-4.tcx</tspan>: 168</text>
<text class="leg" x="2541" y="328.3" text-anchor="end"><tspan font-weight="bold" fill="#6b078f">Polar-H10.tcx</tspan>: 169</text>
<g>
<rect x="2521.3" y="162.2" width="28.8" height="28.6" rx="6.2" ry="6.2" fill="none" stroke="#303030" stroke-width="6"/>
<g transform="translate(2534.2,180.8) rotate(-45)">
<rect x="8" y="-7.7" width="40" height="15.5" fill="#fff"/>
<path d="M0,0 L4.2,-2.2 L20,-2.2 L20,2.2 L4.2,2.2 Z" fill="#303030"/>
<path d="M25,-2.2 L29.3,-2.2 Q30.5,-2.2 30.5,-1 L30.5,1 Q30.5,2.2 29.3,2.2 L25,2.2 Z" fill="#303030"/>
</g></g>
</svg></body></html>
